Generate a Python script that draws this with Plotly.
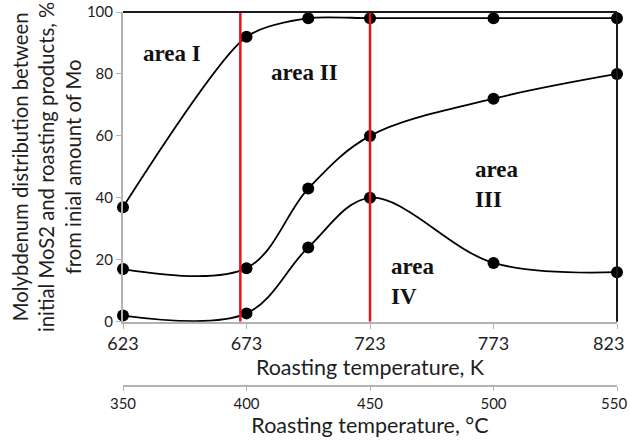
import plotly.graph_objects as go

temp_K = [623, 673, 698, 723, 773, 823]
series_top = [37, 92, 98, 98, 98, 98]
series_mid = [17, 17.3, 43, 60, 72, 80]
series_low = [2, 2.7, 24, 40, 19, 16]

k_ticks = [623, 673, 723, 773, 823]
c_ticks = [350, 400, 450, 500, 550]
y_ticks = [0, 20, 40, 60, 80, 100]
red_lines_K = [670.5, 723]

SANS = "Lato, 'Open Sans', sans-serif"
SERIF = "'Liberation Serif', 'Times New Roman', serif"
AXIS_GRAY = "#b3b3b3"
TXT = "#1e1e1e"

fig = go.Figure()
for ys, sm in ((series_top, 0.7), (series_mid, 1.0), (series_low, 1.0)):
    fig.add_trace(go.Scatter(
        x=temp_K, y=ys, mode="lines+markers",
        line=dict(color="black", width=1.8, shape="spline", smoothing=sm),
        marker=dict(color="black", size=12),
        showlegend=False, cliponaxis=False, hoverinfo="skip",
    ))
# invisible trace so the °C axis is drawn
fig.add_trace(go.Scatter(x=c_ticks, y=[50] * len(c_ticks), xaxis="x2", yaxis="y",
                         mode="markers", marker=dict(opacity=0), hoverinfo="skip",
                         showlegend=False))

Y0_PAPER = 0.1718  # bottom of the y-axis domain
shapes = []
for xv in red_lines_K:
    shapes.append(dict(type="line", xref="x", yref="y", x0=xv, x1=xv, y0=0, y1=100,
                       line=dict(color="#e8141b", width=2.5)))
# black frame lines on top and right side
shapes.append(dict(type="line", xref="paper", yref="paper", x0=0, x1=1, y0=1, y1=1,
                   line=dict(color="#1a1a1a", width=2)))
shapes.append(dict(type="line", xref="paper", yref="paper", x0=1, x1=1, y0=Y0_PAPER, y1=1,
                   line=dict(color="#1a1a1a", width=2)))

AREA_FONT = dict(family=SERIF, size=23, color="#111111")
annotations = [
    dict(x=643, y=86.7, text="<b>area I</b>", xanchor="center", align="center"),
    dict(x=696.3, y=80.5, text="<b>area II</b>", xanchor="center", align="center"),
    dict(x=764.5, y=44.3, text="<b>area<br>III</b>", xanchor="left", align="left"),
    dict(x=730.7, y=13.1, text="<b>area<br>IV</b>", xanchor="left", align="left"),
]
annotations = [dict(a, xref="x", yref="y", showarrow=False, font=AREA_FONT) for a in annotations]
for xv, lab in zip([643, 696, 746.5], ["1", "2", "3"]):
    annotations.append(dict(x=xv, y=-7.5, text="<b>" + lab + "</b>", xref="x", yref="y",
                            showarrow=False, font=dict(family=SANS, size=18, color="#e8141b")))
# last tick labels pulled inward so they stay inside the picture (as in the original)
annotations.append(dict(x=k_ticks[-1], y=0, xref="x", yref="y", text=str(k_ticks[-1]),
                        showarrow=False, xanchor="right", yanchor="middle", xshift=9, yshift=-21,
                        font=dict(family=SANS, size=18, color=TXT)))
annotations.append(dict(x=c_ticks[-1], y=0, xref="x2", yref="paper", text=str(c_ticks[-1]),
                        showarrow=False, xanchor="right", yanchor="middle", xshift=12, yshift=-17,
                        font=dict(family=SANS, size=15, color=TXT)))

fig.update_layout(
    width=630, height=441,
    margin=dict(l=123, r=13, t=12, b=55, autoexpand=False),
    paper_bgcolor="white", plot_bgcolor="white",
    shapes=shapes, annotations=annotations,
    xaxis=dict(range=[623, 823], tickvals=k_ticks,
               ticktext=[str(v) for v in k_ticks[:-1]] + [""],
               showgrid=False, zeroline=False, showline=True, linecolor=AXIS_GRAY, linewidth=2,
               ticks="outside", ticklen=5, tickcolor=AXIS_GRAY, anchor="y", automargin=False,
               tickfont=dict(family=SANS, size=18, color=TXT),
               title=dict(text="Roasting temperature, K", standoff=6,
                          font=dict(family=SANS, size=21.5, color=TXT))),
    xaxis2=dict(range=[350, 550], tickvals=c_ticks,
                ticktext=[str(v) for v in c_ticks[:-1]] + [""],
                overlaying="x", anchor="free", position=0,
                side="bottom", showgrid=False, zeroline=False, showline=True, automargin=False,
                linecolor=AXIS_GRAY, linewidth=2, ticks="outside", ticklen=4, tickcolor=AXIS_GRAY,
                tickfont=dict(family=SANS, size=15, color=TXT),
                title=dict(text="Roasting temperature, °C", standoff=4,
                           font=dict(family=SANS, size=21.5, color=TXT))),
    yaxis=dict(range=[0, 100], tickvals=y_ticks, domain=[Y0_PAPER, 1], automargin=False,
               showgrid=False, zeroline=False, showline=True, linecolor=AXIS_GRAY, linewidth=2,
               ticks="outside", ticklen=5, tickcolor=AXIS_GRAY,
               tickfont=dict(family=SANS, size=15, color=TXT),
               title=dict(text="Molybdenum distribution between<br>initial MoS2 and roasting products, %<br>from inial amount of Mo",
                          standoff=0, font=dict(family=SANS, size=20.3, color=TXT))),
)

fig.write_html("out.html", config={"displayModeBar": False},
               post_script="document.body.style.margin='0';")
